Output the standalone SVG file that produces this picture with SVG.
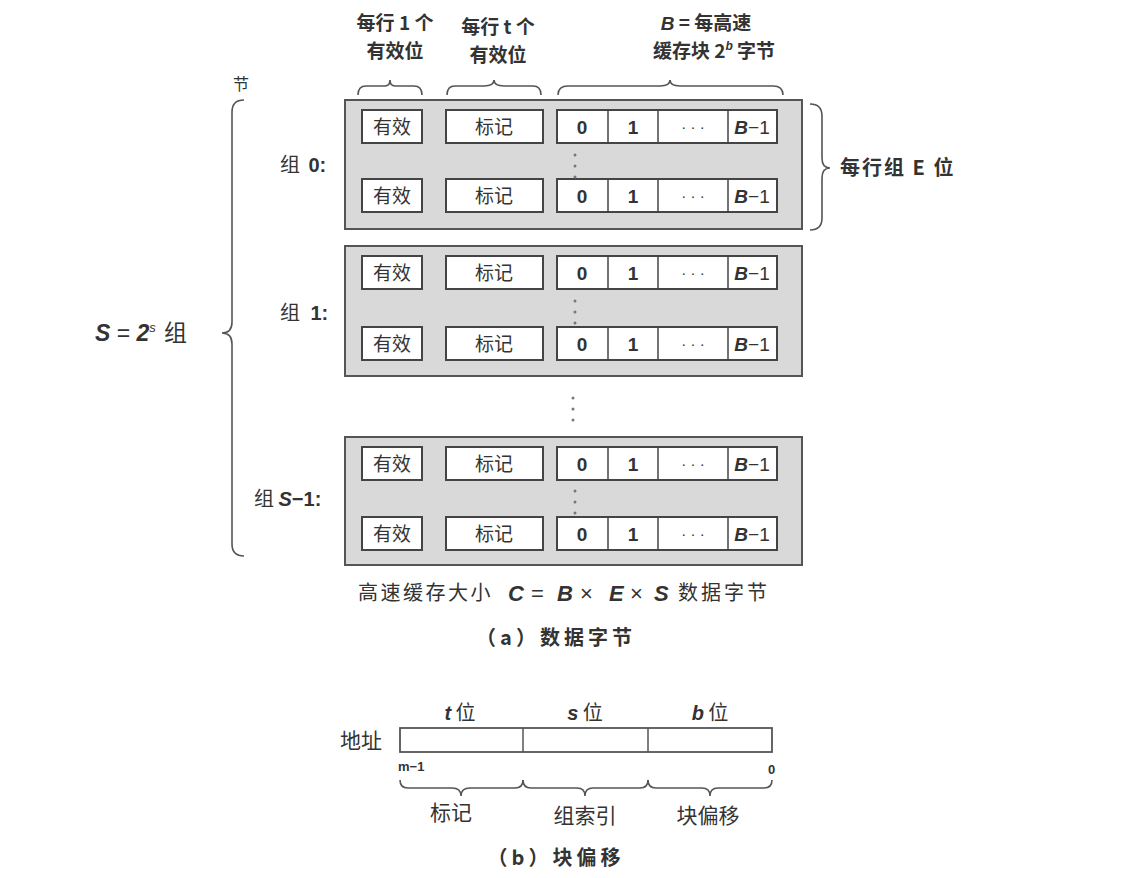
<svg xmlns="http://www.w3.org/2000/svg" xmlns:xlink="http://www.w3.org/1999/xlink" width="1127" height="878" viewBox="0 0 1127 878">
<style>
.cjk{font-family:"Noto Sans CJK SC","Liberation Sans",sans-serif;fill:#333}
.lat{font-family:"Liberation Sans","Noto Sans CJK SC",sans-serif;fill:#333}
.it{font-style:italic;font-weight:bold}
.set{fill:#d9d9d9;stroke:#555;stroke-width:2}
.cell{fill:#fff;stroke:#444;stroke-width:2}
.br{fill:none;stroke:#555;stroke-width:1.6}
.dot{fill:#777}
</style>
<defs>
<g id="line">
<rect class="cell" x="17" y="0" width="60" height="33"/>
<text class="cjk" x="47" y="24" font-size="19" text-anchor="middle">有效</text>
<rect class="cell" x="101" y="0" width="97" height="33"/>
<text class="cjk" x="149" y="24" font-size="19" text-anchor="middle">标记</text>
<rect class="cell" x="212" y="0" width="220" height="33"/>
<line x1="263" y1="0" x2="263" y2="33" stroke="#444" stroke-width="1.5"/>
<line x1="313" y1="0" x2="313" y2="33" stroke="#444" stroke-width="1.5"/>
<line x1="383" y1="0" x2="383" y2="33" stroke="#444" stroke-width="1.5"/>
<text class="lat" x="237" y="24" font-size="19" font-weight="bold" text-anchor="middle">0</text>
<text class="lat" x="288" y="24" font-size="19" font-weight="bold" text-anchor="middle">1</text>
<text class="lat" x="348" y="22" font-size="15" text-anchor="middle">· · ·</text>
<text class="lat" x="407" y="24" font-size="19" text-anchor="middle"><tspan class="it">B</tspan>−1</text>
</g>
<g id="vdots">
<circle class="dot" cx="0" cy="0" r="1.5"/>
<circle class="dot" cx="0" cy="11" r="1.5"/>
<circle class="dot" cx="0" cy="22" r="1.5"/>
</g>
</defs>

<g id="header">
<text class="cjk" x="395" y="30" font-size="19" font-weight="bold" text-anchor="middle">每行 1 个</text>
<text class="cjk" x="395" y="58" font-size="19" font-weight="bold" text-anchor="middle">有效位</text>
<text class="cjk" x="498" y="34" font-size="19" font-weight="bold" text-anchor="middle">每行 t 个</text>
<text class="cjk" x="498" y="62" font-size="19" font-weight="bold" text-anchor="middle">有效位</text>
<text class="cjk" x="706" y="30" font-size="19" font-weight="bold" text-anchor="middle"><tspan class="lat it">B</tspan> = 每高速</text>
<text class="cjk" x="714" y="58" font-size="19" font-weight="bold" text-anchor="middle">缓存块 2<tspan font-size="12" dy="-8" class="lat it">b</tspan><tspan dy="8"> 字节</tspan></text>
<path class="br" d="M358,95 Q358,86 366,86 L385,86 Q390,86 390,80 Q390,86 395,86 L414,86 Q422,86 422,95"/>
<path class="br" d="M447,95 Q447,86 455,86 L484,86 Q494,86 494,80 Q494,86 504,86 L533,86 Q541,86 541,95"/>
<path class="br" d="M558,95 Q558,86 568,86 L660,86 Q670,86 670,80 Q670,86 680,86 L773,86 Q783,86 783,95"/>
</g>

<g id="set0">
<rect class="set" x="345" y="100" width="457" height="129"/>
<use xlink:href="#line" x="345" y="110"/>
<use xlink:href="#line" x="345" y="179"/>
<use xlink:href="#vdots" x="575" y="155"/>
<text class="cjk" x="280" y="172" font-size="20">组 <tspan class="lat" font-weight="bold" dx="4">0:</tspan></text>
</g>

<g id="set1">
<rect class="set" x="345" y="246" width="457" height="130"/>
<use xlink:href="#line" x="345" y="256"/>
<use xlink:href="#line" x="345" y="327"/>
<use xlink:href="#vdots" x="575" y="301"/>
<text class="cjk" x="280" y="320" font-size="20">组 <tspan class="lat" font-weight="bold" dx="6">1:</tspan></text>
</g>

<use xlink:href="#vdots" x="573" y="398"/>

<g id="setS1">
<rect class="set" x="345" y="437" width="457" height="128"/>
<use xlink:href="#line" x="345" y="447"/>
<use xlink:href="#line" x="345" y="517"/>
<use xlink:href="#vdots" x="575" y="491"/>
<text class="cjk" x="254" y="506" font-size="20">组 <tspan class="lat" font-weight="bold"><tspan font-style="italic">S</tspan>−1:</tspan></text>
</g>

<g id="braces">
<path class="br" d="M810,104 Q822,104 822,116 L822,158 Q822,168 830,168 Q822,168 822,178 L822,218 Q822,230 810,230"/>
<text class="cjk" x="840" y="175" font-size="20" font-weight="bold" letter-spacing="2">每行组 E 位</text>
<path class="br" d="M244,100 Q232,100 232,112 L232,322 Q232,333 222,333 Q232,333 232,344 L232,544 Q232,556 244,556"/>
<text class="cjk" x="233" y="90" font-size="16">节</text>
<text class="lat" x="95" y="341" font-size="23"><tspan class="it">S</tspan> = <tspan class="it">2</tspan><tspan font-size="13" dy="-9" font-style="italic">s</tspan><tspan dy="9" class="cjk" dx="3"> 组</tspan></text>
</g>

<g id="caption-a">
<text class="cjk" x="358" y="600" font-size="20" letter-spacing="2.5">高速缓存大小</text>
<text class="lat" y="601" font-size="22"><tspan class="it" x="508">C</tspan><tspan x="531">=</tspan><tspan class="it" x="557">B</tspan><tspan x="580">×</tspan><tspan class="it" x="609">E</tspan><tspan x="630">×</tspan><tspan class="it" x="654">S</tspan></text>
<text class="cjk" x="678" y="600" font-size="20" letter-spacing="3">数据字节</text>
<text class="cjk" x="556" y="645" font-size="20" font-weight="bold" text-anchor="middle" letter-spacing="4">（a）数据字节</text>
</g>

<g id="address">
<text class="cjk" x="340" y="748" font-size="21">地址</text>
<rect x="400" y="728" width="372" height="24" fill="#fff" stroke="#555" stroke-width="1.8"/>
<line x1="523" y1="728" x2="523" y2="752" stroke="#555" stroke-width="1.5"/>
<line x1="648" y1="728" x2="648" y2="752" stroke="#555" stroke-width="1.5"/>
<text class="cjk" x="460" y="720" font-size="20" text-anchor="middle"><tspan class="lat it">t</tspan> 位</text>
<text class="cjk" x="585" y="720" font-size="20" text-anchor="middle"><tspan class="lat it">s</tspan> 位</text>
<text class="cjk" x="710" y="720" font-size="20" text-anchor="middle"><tspan class="lat it">b</tspan> 位</text>
<text class="lat" x="398" y="771" font-size="13" font-weight="bold">m−1</text>
<text class="lat" x="768" y="774" font-size="13" font-weight="bold">0</text>
<path class="br" d="M400,780 Q400,788 408,788 L452,788 Q461,788 461,796 Q461,788 470,788 L515,788 Q523,788 523,780"/>
<path class="br" d="M523,780 Q523,788 531,788 L577,788 Q585,788 585,796 Q585,788 593,788 L640,788 Q648,788 648,780"/>
<path class="br" d="M648,780 Q648,788 656,788 L702,788 Q710,788 710,796 Q710,788 718,788 L764,788 Q772,788 772,780"/>
<text class="cjk" x="451" y="820" font-size="21" text-anchor="middle">标记</text>
<text class="cjk" x="585" y="823" font-size="21" text-anchor="middle">组索引</text>
<text class="cjk" x="708" y="823" font-size="21" text-anchor="middle">块偏移</text>
<text class="cjk" x="556" y="865" font-size="20" font-weight="bold" text-anchor="middle" letter-spacing="4">（b）块偏移</text>
</g>
</svg>
